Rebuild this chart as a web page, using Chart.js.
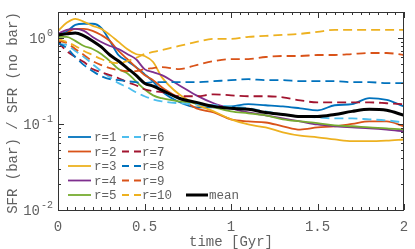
<!DOCTYPE html>
<html>
<head>
<meta charset="utf-8">
<script src="https://cdn.jsdelivr.net/npm/chart.js@4.4.0/dist/chart.umd.min.js"></script>
<style>
  body { margin: 0; background: #fff; }
  #wrap { width: 415px; height: 249px; }
</style>
</head>
<body>
<div id="wrap"><canvas id="sfr-chart" width="415" height="249"></canvas></div>
<script>
// time samples [Gyr]
const times = [0, 0.05, 0.1, 0.15, 0.2, 0.25, 0.3, 0.35, 0.4, 0.45, 0.5, 0.55, 0.6,
  0.7, 0.8, 0.9, 1.0, 1.1, 1.2, 1.3, 1.4, 1.5, 1.6, 1.7, 1.8, 1.9, 2.0];

// SFR(bar) / SFR(no bar)
const r1 = [1.08, 1.18, 1.42, 1.46, 1.46, 1.31, 0.92, 0.63, 0.54, 0.46, 0.38, 0.31, 0.24,
  0.18, 0.156, 0.156, 0.16, 0.17, 0.165, 0.16, 0.152, 0.144, 0.165, 0.17, 0.2, 0.19, 0.16];
const r2 = [1.03, 1.14, 1.27, 1.27, 1.21, 1.08, 0.92, 0.705, 0.57, 0.458, 0.37, 0.323, 0.267,
  0.2, 0.152, 0.136, 0.113, 0.107, 0.104, 0.094, 0.086, 0.091, 0.094, 0.1, 0.107, 0.107, 0.094];
const r3 = [1.207, 1.498, 1.668, 1.539, 1.382, 1.274, 1.084, 0.898, 0.744, 0.65, 0.616, 0.524, 0.35,
  0.221, 0.169, 0.14, 0.113, 0.0986, 0.091, 0.08, 0.073, 0.07, 0.066, 0.063, 0.063, 0.064, 0.066];
const r4 = [1.114, 1.24, 1.274, 1.207, 1.027, 0.898, 0.806, 0.744, 0.65, 0.568, 0.434, 0.4, 0.369,
  0.282, 0.215, 0.174, 0.152, 0.136, 0.126, 0.116, 0.107, 0.0986, 0.094, 0.091, 0.089, 0.086, 0.082];
const r5 = [1.027, 1.027, 0.923, 0.806, 0.744, 0.65, 0.538, 0.434, 0.389, 0.314, 0.253, 0.215, 0.199,
  0.183, 0.174, 0.156, 0.14, 0.133, 0.126, 0.113, 0.107, 0.102, 0.096, 0.094, 0.091, 0.089, 0.086];
const r6 = [0.851, 0.828, 0.705, 0.6, 0.496, 0.411, 0.35, 0.298, 0.267, 0.234, 0.21, 0.193, 0.183,
  0.174, 0.169, 0.165, 0.16, 0.152, 0.14, 0.129, 0.122, 0.119, 0.116, 0.116, 0.113, 0.11, 0.104];
const r7 = [0.898, 0.705, 0.6, 0.524, 0.434, 0.4, 0.369, 0.34, 0.306, 0.282, 0.253, 0.24, 0.234,
  0.21, 0.21, 0.221, 0.215, 0.21, 0.21, 0.204, 0.188, 0.178, 0.178, 0.178, 0.178, 0.174, 0.169];
const r8 = [0.874, 0.764, 0.6, 0.483, 0.411, 0.359, 0.331, 0.323, 0.314, 0.306, 0.298, 0.306, 0.306,
  0.306, 0.306, 0.314, 0.323, 0.331, 0.323, 0.323, 0.314, 0.314, 0.314, 0.306, 0.306, 0.298, 0.298];
const r9 = [0.923, 0.874, 0.744, 0.633, 0.538, 0.483, 0.446, 0.422, 0.411, 0.411, 0.434, 0.446, 0.458,
  0.434, 0.483, 0.538, 0.568, 0.568, 0.6, 0.616, 0.616, 0.633, 0.633, 0.65, 0.668, 0.668, 0.633];
const r10 = [0.974, 0.898, 0.806, 0.705, 0.633, 0.568, 0.524, 0.51, 0.538, 0.584, 0.65, 0.686, 0.724,
  0.806, 0.898, 0.974, 0.974, 1.027, 1.055, 1.084, 1.114, 1.175, 1.24, 1.24, 1.24, 1.24, 1.24];
const meanRatio = [1.084, 1.114, 1.144, 1.055, 0.923, 0.785, 0.633, 0.538, 0.446, 0.369, 0.298, 0.275, 0.247,
  0.199, 0.178, 0.16, 0.152, 0.148, 0.136, 0.129, 0.122, 0.122, 0.129, 0.14, 0.148, 0.144, 0.126];

const seriesLabels = ['r=1', 'r=2', 'r=3', 'r=4', 'r=5', 'r=6', 'r=7', 'r=8', 'r=9', 'r=10'];
const seriesValues = [r1, r2, r3, r4, r5, r6, r7, r8, r9, r10];
const seriesColors = ['#0072BD', '#D95319', '#EDB120', '#7E2F8E', '#77AC30',
  '#4DBEEE', '#A2142F', '#0072BD', '#D95319', '#EDB120'];
const xTickValues = [0, 0.5, 1, 1.5, 2];
const xTickLabels = ['0', '0.5', '1', '1.5', '2'];
const yTickExponents = [-2, -1, 0];

const FONT = '"Liberation Mono", "DejaVu Sans Mono", monospace';
const TEXT = '#616161';
const AXIS = '#333333';

function toPoints(values) {
  return values.map((v, i) => ({ x: times[i], y: v }));
}

const datasets = seriesValues.map((values, i) => ({
  label: seriesLabels[i],
  data: toPoints(values),
  borderColor: seriesColors[i],
  borderWidth: 1.8,
  borderDash: i >= 5 ? [9, 5] : [],
  order: 11 - i
}));
datasets.push({
  label: 'mean',
  data: toPoints(meanRatio),
  borderColor: '#000000',
  borderWidth: 3,
  borderDash: [],
  order: 0
});

// frame, inward ticks, tick labels, axis titles and legend
const framePlugin = {
  id: 'frame',
  afterDraw(chart) {
    const { ctx, chartArea: a, scales: { x, y } } = chart;
    ctx.save();
    ctx.strokeStyle = AXIS;
    ctx.lineWidth = 1;
    ctx.strokeRect(a.left + 0.5, a.top + 0.5, a.right - a.left - 1, a.bottom - a.top);

    ctx.beginPath();
    for (let i = 0; i <= 40; i++) {
      const px = Math.round(x.getPixelForValue(i * 0.05)) + 0.5;
      const len = i % 10 === 0 ? 6 : 3;
      ctx.moveTo(px, a.bottom); ctx.lineTo(px, a.bottom - len);
      ctx.moveTo(px, a.top); ctx.lineTo(px, a.top + len);
    }
    for (let e = -2; e <= 0; e++) {
      for (let m = 1; m <= 9; m++) {
        const v = m * Math.pow(10, e);
        if (v > y.max) break;
        const py = Math.round(y.getPixelForValue(v)) + 0.5;
        const len = m === 1 ? 6 : 3;
        ctx.moveTo(a.left, py); ctx.lineTo(a.left + len, py);
        ctx.moveTo(a.right, py); ctx.lineTo(a.right - len, py);
      }
    }
    ctx.stroke();

    ctx.fillStyle = TEXT;
    ctx.font = '14px ' + FONT;
    ctx.textAlign = 'center';
    ctx.textBaseline = 'middle';
    xTickValues.forEach((v, i) => {
      ctx.fillText(xTickLabels[i], x.getPixelForValue(v), a.bottom + 17);
    });
    ctx.fillText('time [Gyr]', (a.left + a.right) / 2, a.bottom + 32);

    yTickExponents.forEach((e) => {
      const py = y.getPixelForValue(Math.pow(10, e));
      const expText = String(e);
      ctx.font = '10px ' + FONT;
      const w = ctx.measureText(expText).width;
      ctx.textAlign = 'left';
      ctx.fillText(expText, a.left - 5 - w, py - 5);
      ctx.font = '14px ' + FONT;
      ctx.textAlign = 'right';
      ctx.fillText('10', a.left - 6 - w, py + 1);
    });

    ctx.save();
    ctx.translate(13, (a.top + a.bottom) / 2 + 2);
    ctx.rotate(-Math.PI / 2);
    ctx.textAlign = 'center';
    ctx.font = '14px ' + FONT;
    ctx.fillText('SFR (bar) / SFR (no bar)', 0, 0);
    ctx.restore();

    // legend: three columns inside the axes, bottom left
    const rowY = [137, 151.5, 166, 180.5, 195];
    const cols = [
      { x0: 68, x1: 91, tx: 94 },
      { x0: 122, x1: 141, tx: 142 },
      { x0: 186, x1: 208, tx: 209 }
    ];
    ctx.font = '12.5px ' + FONT;
    ctx.textAlign = 'left';
    ctx.textBaseline = 'middle';
    chart.data.datasets.forEach((ds, i) => {
      const col = i < 5 ? cols[0] : (i < 10 ? cols[1] : cols[2]);
      const ry = i < 10 ? rowY[i % 5] : rowY[4];
      ctx.beginPath();
      ctx.strokeStyle = ds.borderColor;
      ctx.lineWidth = ds.borderWidth;
      ctx.setLineDash(ds.borderDash.length ? [7, 5] : []);
      ctx.moveTo(col.x0, ry); ctx.lineTo(col.x1, ry);
      ctx.stroke();
      ctx.setLineDash([]);
      ctx.fillStyle = TEXT;
      ctx.fillText(ds.label, col.tx, ry + 1);
    });
    ctx.restore();
  }
};

const ctx = document.getElementById('sfr-chart').getContext('2d');
window.sfrChart = new Chart(ctx, {
  type: 'line',
  data: { datasets: datasets },
  options: {
    responsive: false,
    animation: false,
    layout: { padding: { left: 58, top: 12, right: 11, bottom: 39 } },
    elements: {
      point: { radius: 0 },
      line: { cubicInterpolationMode: 'monotone' }
    },
    plugins: {
      legend: { display: false },
      tooltip: { enabled: false }
    },
    scales: {
      x: { type: 'linear', min: 0, max: 2, display: false },
      y: { type: 'logarithmic', min: 0.01, max: 2, display: false }
    }
  },
  plugins: [framePlugin]
});
</script>
</body>
</html>
